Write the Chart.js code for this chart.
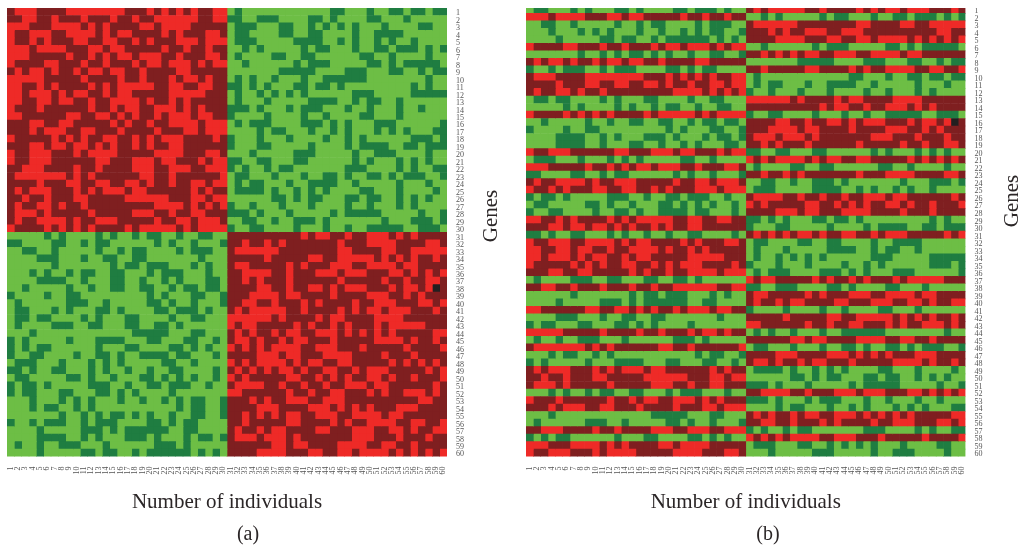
<!DOCTYPE html>
<html>
<head>
<meta charset="utf-8">
<title>Gene expression heatmaps</title>
<script src="https://cdn.jsdelivr.net/npm/chart.js@4"></script>
<style>
html,body{margin:0;padding:0;background:#fff;overflow:hidden;width:1023px;height:550px}
canvas{position:absolute;top:0;display:block}
#panelA{left:-4px}
#panelB{left:512px;clip-path:inset(8px 0 0 0)}
</style>
</head>
<body>
<canvas id="panelA" width="504" height="550"></canvas>
<canvas id="panelB" width="512" height="550"></canvas>
<script>
// Cell states: r bright red, m dark red, g light green, d dark green, k black.
// Rows of panel (a): genes 1-60, individuals 1-30 | 31-60.
const rowsA = [
"m rrr mmmm rrrrrrrr mmm r m r m r m r mm rr | g d gggggggggggg dd ggg d gg dd g dd g dd",
"mm rr mm r mmm r mmm r mm r mm rrrrrr mm rr | dd gg ddd gggg dd g d gggg dd ggg d ggggg",
"rrr mmm rrrr m r m r mmmm rr m rrrr mmmmm | g ddd ggg dd gg d g d g d g d ggg d gggg dd gg",
"r mm rrr mm rrrr m r m rr mmmm r m r mmm rr m | g dd gggg dd gg dd gggg d gg dddd gggggg",
"r mm r m r mmm rr mm rr mm r m r mmm rrr m rrr | g ddd ggggg dddd gg d g d gg d g d gg d gggg",
"rrr m rrrr mmm rr m rr mmmmm r mm r mm r mm | gg d g d ggggg d g dd ggg d gg dd g ddd g d g d",
"rrr mmmmm r mm r m r m rr m rrr mm r mmm rr m | g d gggg dd gg dd gggggg dd gg d gggg d gg",
"r mmmm rr mmm r mm r mmm r m rr m rrr m r m rr | gg d gggggg d g ddd ggggg dd g d g ddddd g",
"m r m rr m r mm r m rr m rr mm r mmmm rr mmmmm | ggggggg ddddd gggg ddd ggg dd gg d g dd",
"rrrrr mmmmm r mmmm r mm r mmm r m rr m r mm | g d g d gg d ggg d gg dddddd gggggggg d gg",
"rr mm r m r mmmm r m r m rrrrr mm rr mm rr mm | dd g d g d ggg dd g dd g d ggggggggg d g d gg",
"rr m rrr m r m rr mm r m rr mmmmm rrrrr mmm | g d gg d g d g d g d gggggg ddd ggggg ddddd",
"rr mm rr m rr mm r mm rrrr m r mm r m r mmmmm | g d ggg d ggggg dddd gg d g dd gg d gggggg",
"r mmm r mmmmmm r mm r m rr mm rrr m r m r mmm | ddd g d ggg d g ddd ggg d gg d ggg d gg d ggg",
"rr mmmmmm rr mm rr m r m r mm r m rrr m rr mm | d gggg d gggg d gg d gggg dd ggg d gggggg",
"mmm rr mm rr mmmmm r m r mm r mm rrrr m rrr | g d g ddd gggg ddd g d g d ggg ddd gggggg d",
"mmm r m rrr mm rr mmm r mmmm r mmm rr m rrr | gggg d g dd ggg d gg d g d ggg d g d g d ggg dd",
"r mmmmm r m r m r mm rr mm r m r m rrr mmmm r m | d ggg d ggg d gggg d gg d g d gggggg ddd g d",
"mmm rr m rr m rr m r m r mm r m r mm rr mmmmmm | d ggg dd ggggg d gggg d g dddd gg dd g ddd",
"r mm rrr mmm r m rrrr mmmmm rrrr mmm rr m | ggg d ggggg ddd ggggg d gg ddd gggg d gg",
"r mm rrr mmmmmm rr mmm rrr m rr mmm r m rr | dd gg dd ggg dd gggggg d g d ggg d g d g d gg",
"mm rrr mmmm r mm r mmmm rrr mm rrr mm rrr | d g d gg d g dd ggggggg ddd gggg d g d gg dd",
"m rrrrrrr m r m r mmmmmm rr mm r mmmmmm r | g dd ggg d ggg d gg dd g d gg dd g d g ddd gg d",
"mmmm r mmm rr mm rr mm rr m r mm r mm rr m rr | g d g dd ggg d gg dddd gg d ggggg d ggg d gg",
"m r m rrr mmm r m r m rrr m rr mmmmmm r m r mm | g dddd g d gg d g d g d gggg dd ggg d gggg d g",
"mm r mm r mmm rr mmmmm rrrrrr mmm rr m rr | gggggg dd g d g dd ggg dd g dd gg d g d g d gg",
"m r mm rr m r mm r mmmmmmmmm rrrr m r m r m r | d gg d ggg d ggg d gggg d gg d ggg d g d gggg",
"m rrr m r mmmmm r mmmmm rrr mm r mm rr mmm | ddd g d ggg d ggggg d g ddddd ggggg d gg d",
"m r mm rrrr m r mm rrr mmmmm r mm rr m rrr m | gg dd gg d gg ddd g d ggggggg d ggg ddd g d",
"r mmmm r m r m r m r mmmm r m rrrrr m r m rrrr | d gg dd gggg d ggg d gg d gg ddddd gg ddd g",
"ggggg d g d gggg d g d gg d g dd gg d gg dd gg | mmmmmmmmmm r m rr mm r mm rrr m r m r mmmm",
"dd gggg dd gg d g dd gggggg d g d gg d ggg d | mm r mm r m r mmmmmmm r mmm rrrr mmmm rr m",
"gg dd gg d ggggg d gg d g dd gggg d g ddd gg | m rrrrrr mmmmmmmm rr mmmm rr mm rrrrr",
"gggg ddd ggg d gg dd gg dd ggggggg d ggg | mmmmm r mmmmm rr mm rrrrr m r m r m r mm r m",
"gggggg d ggggggg d g dd g ddd ggg d g d gg | m rr mmmmm r m r mmm rrr mm rrrr m rr mmmm",
"ggg d g d gg d g dd gg dd ggg d g ddd ggg d gg | mm rrrr mm r mmm rrr m rrr mmm rr m r m r m r",
"gggg dddd gg d ggg dd gg d gg d g d ggg dd g | mm r m r mmm r mmmmmm r mmmmm r mm r mm rr m",
"gg d ggggg d gg d gg dd gg dd gg d g dd g dd g | mmmm rr mm r mm rr m r m rrr mmm r m rr m r k m",
"d gggg d gg dd ggggggggg d g d ggg dd gg d | mmm rrrr m rr mmmm r mmmm rrr mm r m r mmm",
"g d gggggg ddd gg d ggggg dd g d gg d ggg d | mm rr mm r mmm r m r mmmm r mm rrr mmm rr m r",
"g dd ggg d g d ggg dd g d gggg dd g ddd g d gg | m r m rrrrr mm r mmmm r m r m rr m rrr mmm r m",
"g dd g dd gggg d g d ggg dd gggg d gg dd ggg | rrrrrr m r mmmm r m rr mmmm rrrr mmmmmm",
"g d gggg ddd gg dd ggg dd gg dd g d gggggg | r m rr mmmmm r m r mm r m r mmm r m rrrrr mmm",
"ggg d ggggggggggggg ddddd ggg dd ggg | m r m r mm r m rr mm rrr m r m r m r m r mmmmm rr",
"d g d ggggg d ggg dddd ggg dd ggg dd gg d g | m rr m r mm r m rr mmm r mmmmm rrrr m r mm r m",
"d g d g dd gggggg d ggg dd gggg dd g d g d gg | r m r m r m rrrr mm rrr mmm r mmmmm r mmmm r",
"d gg dd gggg d gg dd g d gg dddd g dd ggg d g | mmmm rrr m rr mmm rrrr mmmm r mmm r mmmm",
"g ddd ggg d ggg d g d g d ggggg dd gg d gggg | r m r m rrrr m r m rr mm rr mmmmm r m r m r m r m",
"dd g d gg dd ggg d g d gg d gg d gg dd gggg d g | m r m r m r m rr m r mm rr mm r m rrr mmmmm r m r",
"g dd ggggg dd g d gg d ggg dd g d g d g d gg d g | r m r mmmmm rr mm r m r m r mm rr m r mm r mmm r",
"d g dd g d ggggg ddd gg d gg dd g ddd gg d gg | m rrrr mm r mm r mm r mm rrr m rr mmmmmm r m",
"d g dd ggg dd ggg dd g d g d gggg d ggggggg | rr mmmmmm r mm r mm rr mmm r m r mm rrr m r m",
"ggg d ggg d g d g d ggg d gg d gg d g d g dd gg d | mmm r m r mm rrr mm rrr mmmmmmmmmm rr mm",
"ggg d g dd gg d g d ggggggggggg d g dd gg d | mmmm rrr mmmm rrr m r m r m r mmm rrr mmmm",
"ggggggg d gg d g d g dd g d g d gg d gg dd gg d | mm r m r m r m rr mm rrr mm rrrr m rr mmmmmm",
"d gg d g ddd gg d g ddd gggg dd g d g dd gggg | mm r mmmmm rr mmmm r m r mm rrrr mm rr mm r",
"gggg d ggggg ddd g d g dddddd gg dd gggg | m r mm r m rr mmmm rr mmm rrr mm rr m r mm rr",
"gggg dddd gg d g d ggg ddd g d ggg d g dd g d | m rrr m rrr m r mmmmmmm rrr mmm r mmm r mm",
"g d gg d gg ddd ggg d gggggg ddd g d ggggg | mmmmmm rr m rr mmmm rrrr mm rr mm r mmmm",
"gggg d ggggg dd g dd gg d g dddddd g d g d g | mmmm rrrr mmm rr mm rr m rrrr m r m r m r m r"
];
// Panel (b) shows the same genes in another order: for each displayed row, the row of panel (a).
const rowOrderB = [41,6,33,53,60,8,55,9,56,1,24,27,42,31,30,38,39,58,37,21,48,7,32,29,5,51,50,47,11,19,49,4,13,12,18,16,43,2,35,57,15,34,52,10,59,23,54,45,25,26,28,36,14,17,44,40,22,46,3,20];
const geneLabels = ["1","2","3","4","5","6","7","8","9","10","11","12","13","14","15","16","17","18","19","20","21","22","23","24","25","26","27","28","29","30","31","32","33","34","35","36","37","38","39","40","41","42","43","44","45","46","47","48","49","50","51","52","53","54","55","56","57","58","59","60"];
const individualLabels = geneLabels.slice();
const stateColors = {r:"#EE2A27",m:"#7F1F20",g:"#6DBE45",d:"#1F7D41",k:"#231F20"};
const xTitle = "Number of individuals";
const yTitle = "Genes";

const cellsA = rowsA.map(s => s.replace(/[ |]/g,""));
cellsA.forEach((s,i)=>{ if(s.length!==60) console.error("row",i+1,s.length); });
const cellsB = rowOrderB.map(n => cellsA[n-1]);

const serif = '"Liberation Serif","DejaVu Serif",serif';
const ink = "#2b2627";

const verticalTitle = {
  id:"verticalTitle",
  afterDraw(chart,args,o){
    const c = chart.ctx;
    c.save();
    c.translate(o.x,o.y);
    c.rotate(-Math.PI/2);
    c.font = o.size+"px "+serif;
    c.fillStyle = ink;
    c.textAlign = "center";
    c.textBaseline = "middle";
    c.fillText(yTitle,0,0);
    c.restore();
  }
};

function noPad(s){s.paddingTop=0;s.paddingBottom=0;s.paddingLeft=0;s.paddingRight=0;}

function panel(id,cells,caption,L){
  const datasets = individualLabels.map((_,col)=>({
    data: cells.map(()=>1),
    backgroundColor: cells.map(r=>stateColors[r[col]]),
    borderWidth:0,
    barPercentage:1,
    categoryPercentage:1,
    xAxisID:"x", yAxisID:"y"
  }));
  new Chart(document.getElementById(id),{
    type:"bar",
    data:{labels:geneLabels,datasets},
    plugins:[verticalTitle],
    options:{
      indexAxis:"y",
      responsive:false,
      animation:false,
      devicePixelRatio:1,
      layout:{padding:{left:0,top:L.top,right:0,bottom:0}},
      scales:{
        x:{type:"linear",stacked:true,min:0,max:60,display:false},
        individuals:{
          type:"category",labels:individualLabels,position:"bottom",offset:true,
          grid:{display:false,drawTicks:false},border:{display:false},
          ticks:{autoSkip:false,minRotation:90,maxRotation:90,padding:10,color:"#555",font:{family:serif,size:8}},
          title:{display:true,text:xTitle,color:ink,font:{family:serif,size:21},padding:{top:0,bottom:8}},
          afterFit(s){s.height=66.4;noPad(s);}
        },
        y:{
          type:"category",stacked:true,position:"right",offset:true,
          grid:{display:false,drawTicks:false},border:{display:false},
          ticks:{autoSkip:false,padding:9,labelOffset:1.5,color:"#555",font:{family:serif,size:8}},
          afterFit(s){s.width=L.axis;noPad(s);}
        },
        spacer:{
          type:"linear",position:"left",
          grid:{display:false,drawTicks:false},border:{display:false},
          ticks:{display:false},
          afterFit(s){s.width=L.left;noPad(s);}
        }
      },
      plugins:{
        legend:{display:false},
        tooltip:{enabled:false},
        title:{display:true,text:caption,position:"bottom",color:ink,font:{family:serif,size:20,weight:"normal"},padding:{top:0,bottom:3}},
        verticalTitle:{x:L.gx,y:L.gy,size:21}
      }
    }
  });
}
panel("panelA",cellsA,"(a)",{left:11,top:8,axis:53,gx:495,gy:216});
panel("panelB",cellsB,"(b)",{left:14,top:5.8,axis:58.5,gx:500,gy:201});
</script>
</body>
</html>
